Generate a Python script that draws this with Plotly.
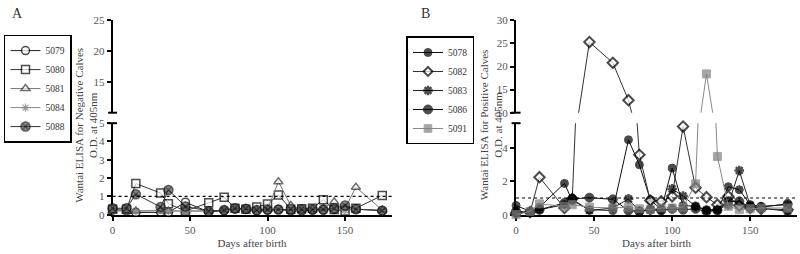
import plotly.graph_objects as go

# ---------------- data ----------------
days = [0, 9, 15, 31, 36, 47, 62, 72, 79, 86, 93, 100, 107, 115, 122, 129, 136, 143, 150, 157, 174]

neg_names = ["5079", "5080", "5081", "5084", "5088"]
v5079 = [0.25, 0.2, 0.12, 0.15, 0.12, 0.68, 0.15, 0.22, 0.3, 0.28, 0.2, 0.25, 0.28, 0.2, 0.2, 0.25, 0.25, 0.28, 0.3, 0.3, 0.22]
v5080 = [0.3, 0.3, 1.7, 1.18, 0.6, 0.2, 0.65, 0.95, 0.35, 0.3, 0.42, 0.58, 1.08, 0.3, 0.32, 0.35, 0.82, 0.28, 0.2, 0.35, 1.05]
v5081 = [0.2, 0.2, 0.2, 0.2, 0.2, 0.2, 0.2, 0.25, 0.35, 0.3, 0.25, 0.3, 1.8, 0.5, 0.3, 0.3, 0.35, 0.7, 0.35, 1.5, 0.25]
v5084 = [0.2, 0.25, 0.2, 0.25, 0.2, 0.2, 0.2, 0.25, 0.3, 0.3, 0.25, 0.3, 0.3, 0.25, 0.25, 0.3, 0.3, 0.3, 0.25, 0.3, 0.25]
v5088 = [0.35, 0.35, 1.12, 0.42, 1.35, 0.45, 0.2, 0.25, 0.35, 0.32, 0.25, 0.28, 0.28, 0.3, 0.3, 0.28, 0.28, 0.35, 0.5, 0.3, 0.22]

pos_names = ["5078", "5082", "5083", "5086", "5091"]
v5078 = [0.55, 0.2, 0.45, 1.88, 0.85, 0.3, 0.25, 4.5, 3.0, 0.9, 0.3, 2.8, 0.55, 0.5, 0.3, 0.3, 1.68, 1.5, 0.6, 0.5, 0.6]
v5082 = [0.1, 0.15, 2.25, 0.4, 0.95, 25.3, 20.8, 12.7, 3.6, 0.85, 0.8, 1.1, 5.3, 1.62, 1.05, 0.6, 1.1, 0.55, 0.4, 0.35, 0.3]
v5083 = [0.1, 0.15, 0.3, 0.6, 0.95, 0.25, 0.4, 0.95, 0.2, 0.3, 0.3, 1.55, 1.12, 0.5, 0.25, 0.3, 0.6, 2.65, 0.55, 0.4, 0.2]
v5086 = [0.2, 0.15, 0.3, 0.7, 0.95, 1.02, 0.92, 0.25, 0.2, 0.3, 0.25, 0.35, 0.3, 0.35, 0.2, 0.25, 0.8, 0.8, 0.45, 0.45, 0.65]
v5091 = [0.0, 0.2, 0.65, 0.5, 0.6, 0.45, 0.4, 0.45, 0.35, 0.3, 0.4, 0.4, 0.45, 1.85, 18.4, 3.5, 0.5, 0.3, 0.35, 0.4, 0.4]

cutoff = 1.0
x_ticks = [0, 50, 100, 150]
a_low_ticks = [0, 1, 2, 3, 4, 5]
a_up_ticks = [15, 20, 25]
b_low_ticks = [0, 2, 4]
b_up_ticks = [10, 15, 20, 25, 30]

neg_values = [v5079, v5080, v5081, v5084, v5088]
pos_values = [v5078, v5082, v5083, v5086, v5091]

# ---------------- styles ----------------
SERIF = "Liberation Serif, Times New Roman, serif"
neg_styles = [
    dict(symbol="circle", fill="white", edge="black", ew=1.5, size=8, lc="#222"),
    dict(symbol="square", fill="white", edge="black", ew=1.5, size=8, lc="#333"),
    dict(symbol="triangle-up", fill="white", edge="#333", ew=1.5, size=8, lc="#777"),
    dict(symbol="asterisk-open", fill="#777", edge="#777", ew=1.2, size=7, lc="#888"),
    dict(symbol="circle-x", fill="#555", edge="#111", ew=1.5, size=9, lc="#333"),
]
pos_styles = [
    dict(symbol="circle", fill="black", edge="black", ew=1, size=8, lc="#111"),
    dict(symbol="diamond", fill="white", edge="black", ew=2, size=8, lc="#333"),
    dict(symbol="asterisk-open", fill="black", edge="black", ew=2.5, size=8, lc="#222"),
    dict(symbol="circle", fill="black", edge="black", ew=1, size=9, lc="#111"),
    dict(symbol="square", fill="#808080", edge="#808080", ew=1, size=8, lc="#888"),
]

A_X = [110 / 800, 390 / 800]
B_X = [515 / 800, 797 / 800]
LOW = [1 - 219 / 254, 1 - 123 / 254]
UP = [1 - 112 / 254, 1 - 15 / 254]
A_LOW_R, A_UP_R = [0, 5], [10, 25]
B_LOW_R, B_UP_R = [0, 5.5], [10, 30]

fig = go.Figure()


def add_series(names, values, styles, xa, ylow, yup, lowr, upr, legend):
    for name, vals, st in zip(names, values, styles):
        for ya, rng, show in ((ylow, lowr, True), (yup, upr, False)):
            sizes = [st["size"] if (rng[0] - 0.3 <= v <= rng[1] + 0.2) else 0 for v in vals]
            fig.add_trace(go.Scatter(
                x=days, y=vals, name=name, mode="lines+markers",
                xaxis=xa, yaxis=ya, legend=legend, showlegend=show,
                legendgroup=legend + name, cliponaxis=False,
                line=dict(color=st["lc"], width=1),
                marker=dict(symbol=st["symbol"], size=sizes, color=st["fill"],
                            line=dict(color=st["edge"], width=st["ew"])),
            ))


add_series(neg_names, neg_values, neg_styles, "x", "y", "y2", A_LOW_R, A_UP_R, "legend")
add_series(pos_names, pos_values, pos_styles, "x2", "y3", "y4", B_LOW_R, B_UP_R, "legend2")

tickfont = dict(family=SERIF, size=11, color="#555")
axis_common = dict(showline=True, linecolor="black", linewidth=2, ticks="outside",
                   ticklen=4, tickwidth=1.5, tickcolor="black", showgrid=False,
                   zeroline=False, tickfont=tickfont, layer="below traces")
xtitle = dict(text="Days after birth", standoff=4, font=dict(family=SERIF, size=11, color="#444"))
legend_common = dict(xanchor="left", yanchor="top", bordercolor="black", borderwidth=1.5,
                     bgcolor="white", font=dict(family=SERIF, size=9.5, color="#333"),
                     tracegroupgap=0, itemwidth=30)

fig.update_layout(
    width=800, height=254, margin=dict(l=0, r=0, t=0, b=0),
    paper_bgcolor="white", plot_bgcolor="white",
    font=dict(family=SERIF, size=11, color="#333"),
    xaxis=dict(domain=A_X, range=[0, 180], anchor="y", tickvals=x_ticks, title=xtitle, **axis_common),
    yaxis=dict(domain=LOW, range=A_LOW_R, anchor="x", tickvals=a_low_ticks, **axis_common),
    yaxis2=dict(domain=UP, range=A_UP_R, anchor="x", tickvals=a_up_ticks, **axis_common),
    xaxis2=dict(domain=B_X, range=[0, 180], anchor="y3", tickvals=x_ticks, title=xtitle, **axis_common),
    yaxis3=dict(domain=LOW, range=B_LOW_R, anchor="x2", tickvals=b_low_ticks, **axis_common),
    yaxis4=dict(domain=UP, range=B_UP_R, anchor="x2", tickvals=b_up_ticks, **axis_common),
    legend=dict(x=1 / 800, y=1 - 30 / 254, **legend_common),
    legend2=dict(x=405 / 800, y=1 - 32 / 254, **legend_common),
)

# cutoff lines
for xd, yr in (("x domain", "y"), ("x2 domain", "y3")):
    fig.add_shape(type="line", xref=xd, yref=yr, x0=0, x1=1, y0=cutoff, y1=cutoff,
                  line=dict(color="black", width=1.2, dash="dot"))

# broken-axis caps
for xd, yd, yy in (("x domain", "y domain", 1), ("x domain", "y2 domain", 0),
                   ("x2 domain", "y3 domain", 1), ("x2 domain", "y4 domain", 0)):
    fig.add_shape(type="line", xref=xd, yref=yd, x0=-0.016, x1=0.016, y0=yy, y1=yy,
                  line=dict(color="black", width=2))

# y titles and panel letters
ytitle_font = dict(family=SERIF, size=11, color="#444")
fig.add_annotation(text="Wantai ELISA for Negative Calves<br>O.D. at 405nm", textangle=-90,
                   xref="paper", yref="paper", x=83 / 800, y=1 - 125 / 254, showarrow=False,
                   xanchor="center", yanchor="middle", font=ytitle_font)
fig.add_annotation(text="Wantai ELISA for Positive Calves<br>O.D. at 405nm", textangle=-90,
                   xref="paper", yref="paper", x=490 / 800, y=1 - 125 / 254, showarrow=False,
                   xanchor="center", yanchor="middle", font=ytitle_font)
fig.add_annotation(text="A", xref="paper", yref="paper", x=15 / 800, y=1 - 8 / 254,
                   showarrow=False, xanchor="center", yanchor="middle",
                   font=dict(family=SERIF, size=14, color="#333"))
fig.add_annotation(text="B", xref="paper", yref="paper", x=424 / 800, y=1 - 8 / 254,
                   showarrow=False, xanchor="center", yanchor="middle",
                   font=dict(family=SERIF, size=14, color="#333"))

fig.write_html("out.html", config={"displayModeBar": False},
               post_script="document.body.style.margin='0';document.body.style.padding='0';")
